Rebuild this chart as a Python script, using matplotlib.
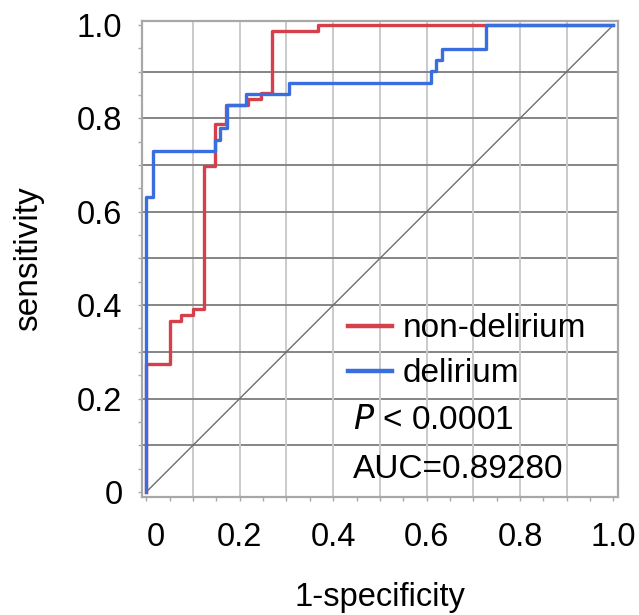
import matplotlib
matplotlib.use("Agg")
import matplotlib.pyplot as plt
import matplotlib.transforms as mtransforms
import numpy as np

plt.rcParams['font.family'] = ['Liberation Sans', 'DejaVu Sans']

# ROC step data
nondel_fpr = [0, 0, 0.050, 0.075, 0.099, 0.123, 0.148, 0.170, 0.218, 0.245, 0.270, 0.368, 1.0]
nondel_tpr = [0, 0.273, 0.367, 0.379, 0.392, 0.697, 0.788, 0.829, 0.841, 0.855, 0.987, 1.0, 1.0]

del_fpr = [0, 0, 0.015, 0.147, 0.157, 0.172, 0.213, 0.306, 0.609, 0.621, 0.633, 0.728, 1.0]
del_tpr = [0, 0.632, 0.729, 0.754, 0.779, 0.829, 0.852, 0.876, 0.901, 0.925, 0.949, 1.0, 1.0]

tick_vals = [0, 0.2, 0.4, 0.6, 0.8, 1.0]
tick_labels = ['0', '0.2', '0.4', '0.6', '0.8', '1.0']
series_names = ['non-delirium', 'delirium']
p_text = r'$P$' + ' < 0.0001'
auc_text = 'AUC=0.89280'

red = '#d6404b'
blue = '#3a6ddd'
FS = 23.5

fig = plt.figure(figsize=(6.39, 6.15), dpi=100)
ax = fig.add_axes([0.222, 0.192, 0.745, 0.774])

ax.set_xlim(-0.0096, 1.0096)
ax.set_ylim(-0.0107, 1.0086)

# grid
for v in np.arange(1, 10) / 10:
    ax.axvline(v, color='#cacaca', lw=1.4, zorder=1)
    ax.axhline(v, color='#858585', lw=1.4, zorder=1)

ax.plot([0, 1], [0, 1], color='#6e6e6e', lw=1.0, zorder=2)

l1, = ax.step(nondel_fpr, nondel_tpr, where='post', color=red, lw=2.4, zorder=3,
              label=series_names[0])
l2, = ax.step(del_fpr, del_tpr, where='post', color=blue, lw=2.4, zorder=4,
              label=series_names[1])

for s in ax.spines.values():
    s.set_color('#a8a8a8')
    s.set_linewidth(1.6)

ax.set_xticks(tick_vals)
ax.set_xticklabels(tick_labels)
ax.set_yticks(tick_vals)
ax.set_yticklabels(tick_labels)
ax.set_xticks(np.arange(0, 1.01, 0.05), minor=True)
ax.set_yticks(np.arange(0, 1.01, 0.05), minor=True)
ax.tick_params(axis='both', which='major', labelsize=FS, length=3, width=1,
               color='#a8a8a8')
ax.tick_params(axis='y', which='major', pad=11)
ax.tick_params(axis='x', which='major', pad=15)
ax.tick_params(axis='both', which='minor', length=3, width=1, color='#a8a8a8')

# shift the x "0" label slightly right as in the reference
xl0 = ax.get_xticklabels()[0]
xl0.set_transform(xl0.get_transform() +
                  mtransforms.ScaledTranslation(9 / 100, 0, fig.dpi_scale_trans))

ax.set_xlabel('1-specificity', fontsize=FS, labelpad=21)
ax.set_ylabel('sensitivity', fontsize=24, labelpad=24)

leg = ax.legend(handles=[l1, l2], loc='upper left', bbox_to_anchor=(0.433, 0.386),
                frameon=False, fontsize=24, handlelength=1.32, handletextpad=0.33,
                labelspacing=0.42, borderpad=0, borderaxespad=0)
for ln in leg.get_lines():
    ln.set_linewidth(3.2)

ax.text(0.443, 0.152, p_text, fontsize=24, va='center', ha='left', zorder=5)
ax.text(0.443, 0.049, auc_text, fontsize=24, va='center', ha='left', zorder=5)

fig.savefig('out.png', dpi=100)
